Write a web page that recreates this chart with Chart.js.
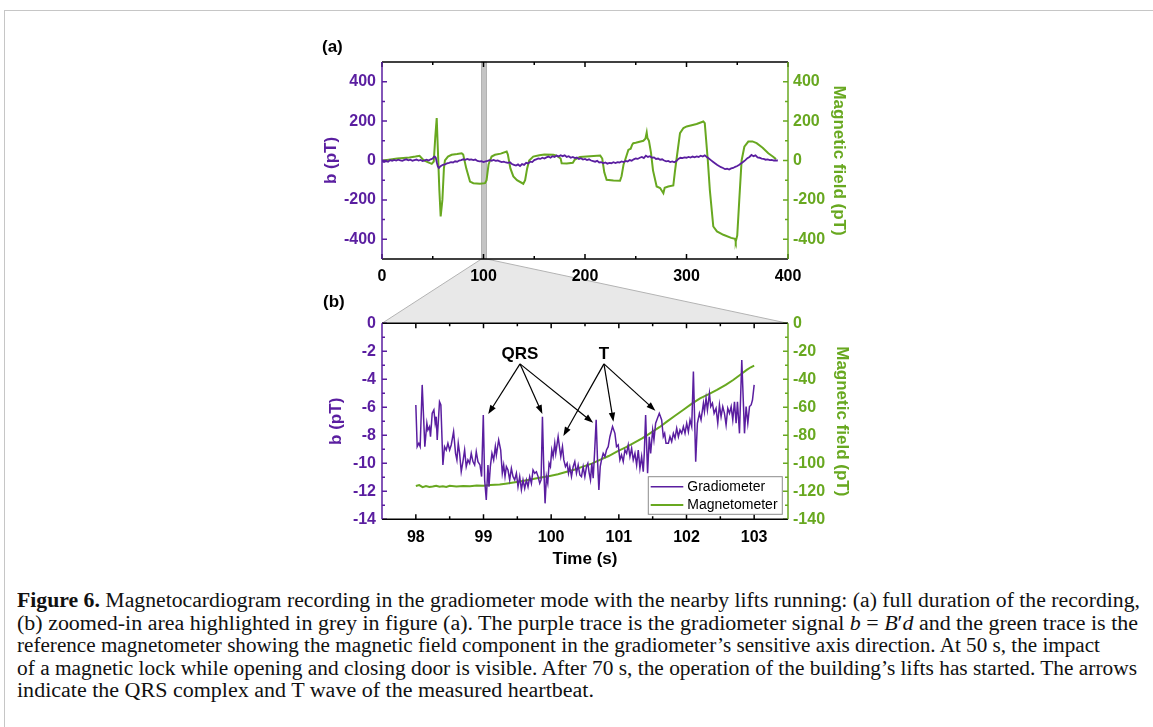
<!DOCTYPE html>
<html>
<head>
<meta charset="utf-8">
<script src="https://cdn.jsdelivr.net/npm/chart.js@4.4.0/dist/chart.umd.min.js"></script>
<style>
body{margin:0;background:#fff;width:1153px;height:727px;overflow:hidden;position:relative;font-family:"Liberation Sans",Arial,sans-serif}
#frame{position:absolute;left:4px;top:10px;right:-4px;bottom:-4px;border-top:1.5px solid #c6c6c6;border-left:1.5px solid #c6c6c6}
canvas{position:absolute;left:0}
#ca{top:0;z-index:2}
#cb{top:259px;z-index:1}
.panel{position:absolute;font-weight:bold;font-size:17px;line-height:20px;z-index:3}
#caption{position:absolute;left:17px;top:589px;font-family:"Liberation Serif",serif;font-size:20px;line-height:22.5px;white-space:nowrap;color:#111}
#caption span{display:inline-block;transform-origin:0 50%}
</style>
</head>
<body>
<div id="frame"></div>
<div class="panel" style="left:322px;top:37px">(a)</div>
<div class="panel" style="left:323px;top:292px">(b)</div>
<canvas id="ca" width="1153" height="290" style="width:1153px;height:290px"></canvas>
<canvas id="cb" width="1153" height="311" style="width:1153px;height:311px"></canvas>
<div id="caption">
<div><span data-w="1123"><b>Figure 6.</b> Magnetocardiogram recording in the gradiometer mode with the nearby lifts running: (a) full duration of the recording,</span></div>
<div><span data-w="1121">(b) zoomed-in area highlighted in grey in figure (a). The purple trace is the gradiometer signal <i>b</i> = <i>B</i>′<i>d</i> and the green trace is the</span></div>
<div><span data-w="1083">reference magnetometer showing the magnetic field component in the gradiometer’s sensitive axis direction. At 50 s, the impact</span></div>
<div><span data-w="1120">of a magnetic lock while opening and closing door is visible. After 70 s, the operation of the building’s lifts has started. The arrows</span></div>
<div><span data-w="577">indicate the QRS complex and T wave of the measured heartbeat.</span></div>
</div>
<script>
const purple = '#5a1ea0';
const green = '#68a820';

// tick labels
const aTimeTicks = [0, 100, 200, 300, 400];
const aFieldTicks = [-400, -200, 0, 200, 400];
const bTimeTicks = [98, 99, 100, 101, 102, 103];
const bGradTicks = [-14, -12, -10, -8, -6, -4, -2, 0];
const bMagTicks = [-140, -120, -100, -80, -60, -40, -20, 0];
const zoomWindow = [98, 103];

// (a) full recording: [time s, pT]
const gradA = [[0,-4],[2,-8],[4,-3],[6,-6],[8,2],[10,-2],[12,3],[14,0],[16,4],[18,1],[20,-2],[22,3],[24,6],[26,1],[28,4],[30,-1],[32,2],[34,5],[36,0],[38,3],[40,-3],[42,1],[44,4],[46,0],[48,6],[50,10],[51,18],[52,20],[53,14],[54,-10],[55,-30],[56,-38],[57,-32],[58,-28],[60,-22],[62,-20],[64,-15],[66,-12],[68,-8],[70,-10],[72,-4],[74,-6],[76,0],[78,2],[80,6],[82,3],[84,8],[86,4],[88,6],[90,2],[92,5],[94,-2],[96,-4],[98,-3],[100,-8],[102,-5],[104,-2],[106,2],[108,-1],[110,3],[112,-2],[114,0],[116,-4],[118,-8],[120,-6],[122,-10],[124,-12],[126,-9],[128,-18],[130,-22],[132,-26],[134,-20],[136,-28],[138,-18],[140,-22],[142,-12],[144,-15],[146,-6],[148,-8],[150,2],[152,6],[154,10],[156,8],[158,14],[160,10],[162,16],[164,20],[166,14],[168,22],[170,18],[172,25],[174,20],[176,27],[178,22],[180,26],[182,18],[184,22],[186,14],[188,18],[190,12],[192,15],[194,8],[196,12],[198,5],[200,8],[202,2],[204,6],[206,0],[208,-3],[210,-6],[212,-2],[214,-10],[216,-8],[218,-14],[220,-10],[222,-16],[224,-12],[226,-14],[228,-9],[230,-13],[232,-8],[234,-10],[236,-5],[238,-8],[240,-2],[242,-5],[244,2],[246,-1],[248,6],[250,10],[252,8],[254,14],[256,18],[258,12],[260,24],[262,18],[264,22],[266,14],[268,16],[270,8],[272,10],[274,4],[276,6],[278,0],[280,-4],[282,-2],[284,-8],[286,-5],[288,-9],[290,-3],[292,8],[294,14],[296,12],[298,16],[300,14],[302,18],[304,15],[306,20],[308,16],[310,21],[312,18],[314,24],[316,20],[318,26],[320,18],[322,10],[324,2],[326,-6],[328,-14],[330,-22],[332,-28],[334,-34],[336,-38],[338,-44],[340,-42],[342,-46],[344,-40],[346,-38],[348,-32],[350,-28],[352,-22],[354,-14],[356,-6],[358,2],[360,12],[362,18],[364,28],[366,22],[368,26],[370,16],[372,14],[374,10],[376,8],[378,4],[380,6],[382,2],[384,3],[386,0],[388,1],[390,0]];

const magA = [[0,0],[5,3],[15,10],[27,15],[33,20],[37,24],[41,2],[45,-8],[49,-17],[51,-5],[52.5,120],[53.9,215],[55,60],[56.5,-150],[57.8,-284],[59.5,-200],[61,-40],[62,0],[65,20],[68.6,29],[74,33],[78.5,37],[80,30],[83,-40],[86.7,-107],[90,-115],[96.5,-118],[101.5,-115],[103,-100],[105,-20],[106.4,0],[108,20],[111.3,29],[117,35],[122.8,46],[124,30],[126.5,-40],[129.4,-81],[133,-100],[139.2,-118],[141,-100],[143,-40],[145,0],[149,20],[155,27],[160,30],[168.8,29],[172,25],[176,10],[177,-14],[182,-15],[188,-12],[190,5],[195,18],[205,22],[215,25],[217,10],[219,-60],[221.3,-98],[228,-102],[234.5,-103],[236,-80],[238,-20],[239.4,0],[242.7,54],[245,60],[246.5,80],[247.6,88],[250,90],[257.5,100],[259.5,110],[260.8,142],[261.5,115],[263,100],[265,40],[267,-50],[270.6,-132],[274,-140],[277.2,-166],[278.5,-138],[282,-132],[287,-127],[288.5,-60],[290,0],[293.6,139],[297,165],[300.2,173],[310,185],[316.6,198],[318,190],[321,0],[323,-150],[326.4,-335],[330,-360],[336.3,-377],[344,-393],[347.8,-398],[348.5,-412],[350,-380],[352,-200],[354.3,0],[357,70],[360.9,96],[365,97],[369.1,88],[375,65],[380.6,37],[385,20],[388.2,7]];

// (b) zoom 98-103 s: gradiometer [s, pT], magnetometer [s, pT]
const gradB = [[98.000,-5.83],[98.020,-8.81],[98.044,-8.57],[98.064,-8.81],[98.094,-4.40],[98.133,-8.81],[98.163,-7.14],[98.178,-7.62],[98.202,-7.38],[98.217,-8.10],[98.242,-6.43],[98.267,-6.19],[98.286,-7.14],[98.301,-6.67],[98.316,-8.33],[98.350,-5.60],[98.370,-5.83],[98.400,-10.12],[98.424,-8.81],[98.449,-9.05],[98.474,-8.57],[98.499,-9.05],[98.523,-8.69],[98.558,-7.74],[98.587,-9.29],[98.607,-9.76],[98.627,-8.57],[98.647,-9.29],[98.671,-10.60],[98.696,-9.88],[98.721,-9.05],[98.745,-10.24],[98.770,-9.76],[98.795,-10.00],[98.819,-9.29],[98.844,-9.88],[98.869,-10.12],[98.893,-9.17],[98.918,-9.88],[98.948,-10.12],[98.972,-10.95],[98.997,-6.55],[99.017,-11.19],[99.041,-12.62],[99.066,-10.12],[99.081,-11.67],[99.101,-10.24],[99.125,-9.29],[99.150,-9.76],[99.175,-8.81],[99.190,-9.40],[99.224,-8.33],[99.254,-9.05],[99.278,-10.71],[99.298,-10.12],[99.318,-10.95],[99.338,-10.24],[99.362,-10.48],[99.387,-11.19],[99.412,-10.36],[99.436,-10.95],[99.461,-11.19],[99.486,-10.71],[99.510,-11.67],[99.535,-10.95],[99.560,-11.90],[99.584,-11.19],[99.609,-11.79],[99.634,-11.19],[99.658,-11.67],[99.683,-10.95],[99.708,-11.43],[99.732,-10.48],[99.757,-10.71],[99.782,-10.60],[99.807,-10.95],[99.831,-11.43],[99.851,-11.19],[99.871,-6.67],[99.890,-10.24],[99.910,-12.86],[99.930,-10.95],[99.950,-11.43],[99.969,-10.00],[99.989,-10.24],[100.009,-9.05],[100.029,-9.52],[100.053,-8.57],[100.068,-9.29],[100.103,-8.10],[100.122,-8.81],[100.142,-9.52],[100.167,-8.81],[100.187,-9.76],[100.211,-10.24],[100.236,-10.00],[100.256,-10.71],[100.275,-10.24],[100.300,-10.95],[100.325,-10.24],[100.349,-9.88],[100.374,-10.71],[100.399,-10.12],[100.424,-10.83],[100.448,-10.95],[100.473,-10.24],[100.498,-10.95],[100.522,-10.24],[100.542,-10.00],[100.562,-10.71],[100.581,-11.19],[100.601,-10.00],[100.621,-11.07],[100.641,-9.29],[100.665,-6.90],[100.685,-9.76],[100.705,-11.90],[100.725,-10.24],[100.744,-9.76],[100.769,-9.29],[100.794,-9.52],[100.818,-9.05],[100.843,-8.81],[100.868,-8.10],[100.907,-7.38],[100.942,-7.86],[100.966,-8.81],[100.991,-8.69],[101.016,-9.76],[101.040,-9.40],[101.065,-9.88],[101.090,-9.05],[101.115,-9.29],[101.139,-8.69],[101.164,-9.52],[101.189,-8.93],[101.213,-9.76],[101.238,-9.29],[101.263,-10.12],[101.287,-9.05],[101.312,-10.36],[101.337,-9.52],[101.361,-10.60],[101.376,-9.29],[101.396,-6.55],[101.425,-10.71],[101.450,-8.10],[101.470,-9.29],[101.500,-7.62],[101.519,-8.33],[101.544,-7.14],[101.598,-6.43],[101.633,-6.90],[101.657,-8.10],[101.677,-7.86],[101.697,-8.57],[101.732,-8.57],[101.756,-8.10],[101.781,-8.45],[101.806,-7.86],[101.830,-8.21],[101.855,-7.50],[101.880,-8.10],[101.904,-7.62],[101.929,-7.86],[101.954,-7.38],[101.978,-7.86],[102.003,-7.14],[102.028,-7.74],[102.052,-6.90],[102.077,-7.38],[102.102,-3.45],[102.136,-9.88],[102.161,-7.14],[102.191,-6.43],[102.215,-6.90],[102.250,-5.71],[102.265,-6.31],[102.289,-5.36],[102.309,-6.19],[102.339,-5.00],[102.358,-5.95],[102.383,-5.71],[102.408,-6.43],[102.437,-6.07],[102.462,-7.14],[102.487,-5.83],[102.511,-6.67],[102.536,-5.95],[102.561,-6.43],[102.585,-7.26],[102.610,-6.07],[102.635,-6.43],[102.660,-5.95],[102.684,-6.90],[102.709,-5.60],[102.733,-7.14],[102.753,-5.60],[102.783,-7.86],[102.817,-2.62],[102.857,-7.86],[102.881,-5.95],[102.906,-7.14],[102.931,-5.95],[102.955,-5.83],[102.975,-5.48],[103.000,-4.40]];

const magB = [[98,-116.2],[98.05,-115.6],[98.1,-117.0],[98.15,-116.3],[98.2,-116.9],[98.25,-116.6],[98.3,-116.0],[98.35,-116.8],[98.4,-116.4],[98.45,-116.9],[98.5,-116.1],[98.6,-116.5],[98.7,-116.2],[98.8,-116.4],[98.9,-115.9],[99.0,-116.0],[99.1,-115.5],[99.24,-115.2],[99.35,-114.4],[99.49,-113.3],[99.6,-112.4],[99.73,-111.2],[99.85,-110.2],[99.98,-109.0],[100.1,-107.8],[100.23,-106.0],[100.35,-104.4],[100.47,-102.4],[100.6,-100.2],[100.72,-97.6],[100.85,-94.8],[100.97,-91.7],[101.1,-88.6],[101.21,-85.7],[101.35,-82.0],[101.46,-78.6],[101.6,-74.2],[101.71,-70.2],[101.83,-66.0],[101.95,-61.9],[102.08,-57.4],[102.2,-53.6],[102.33,-50.6],[102.45,-47.6],[102.58,-44.0],[102.69,-40.5],[102.8,-36.6],[102.89,-33.3],[102.95,-31.4],[103,-30.2]];

// annotations in (b) data units: label position, arrow start, arrow tips
const qrsNote = {text: 'QRS', at: [99.54, -2.19], from: [99.54, -2.9], tips: [[99.07, -6.48], [99.87, -6.48], [100.62, -7.1]]};
const tNote = {text: 'T', at: [100.78, -2.19], from: [100.78, -2.9], tips: [[100.18, -8.05], [100.92, -7.03], [101.54, -6.24]]};

const pts = arr => arr.map(([x, y]) => ({x, y}));
const setTicks = list => s => { s.ticks = list.map(v => ({value: v})); };
const tickFont = {size: 16, weight: 'bold'};
const titleFont = {size: 17, weight: 'bold'};
Chart.defaults.font.family = '"Liberation Sans", Arial, sans-serif';

// inward ticks and coloured frame
const frameTicks = {
    id: 'frameTicks',
    afterDatasetsDraw(chart) {
        const {ctx, chartArea: a, scales} = chart;
        ctx.save();
        ctx.lineWidth = 1.5;
        const mark = (scale, color, draw) => {
            const v = scale.ticks.map(t => t.value);
            const step = v[1] - v[0];
            const lo = Math.min(scale.min, scale.max), hi = Math.max(scale.min, scale.max);
            ctx.strokeStyle = color;
            ctx.beginPath();
            v.forEach(val => draw(scale.getPixelForValue(val), 5));
            [v[0] - step / 2, ...v.map(x => x + step / 2)].forEach(val => {
                if (val > lo && val < hi) draw(scale.getPixelForValue(val), 3);
            });
            ctx.stroke();
        };
        mark(scales.x, '#000', (p, l) => {
            ctx.moveTo(p, a.bottom); ctx.lineTo(p, a.bottom - l);
            ctx.moveTo(p, a.top); ctx.lineTo(p, a.top + l);
        });
        mark(scales.y, purple, (p, l) => { ctx.moveTo(a.left, p); ctx.lineTo(a.left + l, p); });
        mark(scales.y2, green, (p, l) => { ctx.moveTo(a.right, p); ctx.lineTo(a.right - l, p); });
        const line = (c, x1, y1, x2, y2) => {
            ctx.strokeStyle = c; ctx.beginPath(); ctx.moveTo(x1, y1); ctx.lineTo(x2, y2); ctx.stroke();
        };
        line('#000', a.left, a.top, a.right, a.top);
        line('#000', a.left, a.bottom, a.right, a.bottom);
        line(purple, a.left, a.top, a.left, a.bottom);
        line(green, a.right, a.top, a.right, a.bottom);
        ctx.restore();
    }
};

// grey band marking the zoomed window
const band = {
    id: 'band',
    beforeDatasetsDraw(chart) {
        const {ctx, chartArea: a, scales: {x}} = chart;
        const x1 = x.getPixelForValue(zoomWindow[0]), x2 = x.getPixelForValue(zoomWindow[1]);
        ctx.save();
        ctx.fillStyle = '#c4c4c4';
        ctx.fillRect(x1, a.top, x2 - x1, a.bottom - a.top);
        ctx.strokeStyle = '#a8a8a8';
        ctx.lineWidth = 0.8;
        ctx.strokeRect(x1, a.top, x2 - x1, a.bottom - a.top);
        ctx.restore();
    }
};

function axisY(pos, min, max, list, color, title, w) {
    return {
        type: 'linear', position: pos, min, max,
        grid: {display: false, drawTicks: false}, border: {display: false},
        afterBuildTicks: setTicks(list),
        afterFit: s => { s.width = w; },
        ticks: {color, font: tickFont, padding: pos === 'left' ? 6 : 5},
        title: {display: true, text: title, color, font: titleFont, padding: 0}
    };
}

const chartA = new Chart(document.getElementById('ca'), {
    type: 'line',
    data: {
        datasets: [
            {label: 'Gradiometer', data: pts(gradA), borderColor: purple, borderWidth: 1.8, yAxisID: 'y'},
            {label: 'Magnetometer', data: pts(magA), borderColor: green, borderWidth: 2, yAxisID: 'y2'}
        ]
    },
    options: {
        responsive: false, animation: false, devicePixelRatio: 1,
        elements: {point: {radius: 0}, line: {tension: 0}},
        layout: {padding: {left: 321.5, right: 304, top: 62, bottom: 0}},
        plugins: {legend: {display: false}, tooltip: {enabled: false}},
        scales: {
            x: {
                type: 'linear', position: 'bottom', min: 0, max: 400,
                grid: {display: false, drawTicks: false}, border: {display: false},
                afterBuildTicks: setTicks(aTimeTicks),
                afterFit: s => { s.height = 31; },
                ticks: {color: '#000', font: tickFont, padding: 8, maxRotation: 0}
            },
            y: axisY('left', -500, 500, aFieldTicks, purple, 'b (pT)', 60.5),
            y2: axisY('right', -500, 500, aFieldTicks, green, 'Magnetic field (pT)', 61)
        }
    },
    plugins: [band, frameTicks]
});

// trapezoid joining the band in (a) to the frame of (b)
const zoomFan = {
    id: 'zoomFan',
    beforeDraw(chart) {
        const {ctx, chartArea: b} = chart;
        const xa = chartA.scales.x;
        const dy = chart.canvas.offsetTop - chartA.canvas.offsetTop;
        const yTop = chartA.chartArea.bottom - dy;
        const x1 = xa.getPixelForValue(zoomWindow[0]), x2 = xa.getPixelForValue(zoomWindow[1]);
        ctx.save();
        ctx.beginPath();
        ctx.moveTo(x1, yTop); ctx.lineTo(x2, yTop);
        ctx.lineTo(b.right, b.top); ctx.lineTo(b.left, b.top);
        ctx.closePath();
        ctx.fillStyle = '#e8e8e8';
        ctx.fill();
        ctx.strokeStyle = '#b4b4b4';
        ctx.lineWidth = 1;
        ctx.beginPath();
        ctx.moveTo(x1, yTop); ctx.lineTo(b.left, b.top);
        ctx.moveTo(x2, yTop); ctx.lineTo(b.right, b.top);
        ctx.stroke();
        ctx.restore();
    }
};

const notes = {
    id: 'notes',
    afterDatasetsDraw(chart) {
        const {ctx, scales: {x, y}} = chart;
        ctx.save();
        [qrsNote, tNote].forEach(n => {
            ctx.fillStyle = '#000';
            ctx.font = 'bold 17px "Liberation Sans", Arial, sans-serif';
            ctx.textAlign = 'center';
            ctx.textBaseline = 'middle';
            ctx.fillText(n.text, x.getPixelForValue(n.at[0]), y.getPixelForValue(n.at[1]));
            const sx = x.getPixelForValue(n.from[0]), sy = y.getPixelForValue(n.from[1]);
            n.tips.forEach(([tx, ty]) => {
                const ex = x.getPixelForValue(tx), ey = y.getPixelForValue(ty);
                const ang = Math.atan2(ey - sy, ex - sx);
                ctx.strokeStyle = '#000';
                ctx.lineWidth = 1.2;
                ctx.beginPath();
                ctx.moveTo(sx, sy);
                ctx.lineTo(ex - 6 * Math.cos(ang), ey - 6 * Math.sin(ang));
                ctx.stroke();
                ctx.beginPath();
                ctx.moveTo(ex, ey);
                ctx.lineTo(ex - 9 * Math.cos(ang) + 3.2 * Math.sin(ang), ey - 9 * Math.sin(ang) - 3.2 * Math.cos(ang));
                ctx.lineTo(ex - 9 * Math.cos(ang) - 3.2 * Math.sin(ang), ey - 9 * Math.sin(ang) + 3.2 * Math.cos(ang));
                ctx.closePath();
                ctx.fill();
            });
        });
        ctx.restore();
    }
};

const boxLegend = {
    id: 'boxLegend',
    afterDatasetsDraw(chart) {
        const {ctx, chartArea: a} = chart;
        const w = 134, h = 37.6;
        const lx = a.right - 5.7 - w, ly = a.bottom - 5 - h;
        ctx.save();
        ctx.fillStyle = '#fff';
        ctx.fillRect(lx, ly, w, h);
        ctx.strokeStyle = '#8c8c8c';
        ctx.lineWidth = 1;
        ctx.strokeRect(lx, ly, w, h);
        ctx.font = '14px "Liberation Sans", Arial, sans-serif';
        ctx.textBaseline = 'middle';
        chart.data.datasets.forEach((ds, i) => {
            const cy = ly + 10 + i * 18.3;
            ctx.strokeStyle = ds.borderColor;
            ctx.lineWidth = ds.borderWidth;
            ctx.beginPath();
            ctx.moveTo(lx + 2.4, cy); ctx.lineTo(lx + 35, cy);
            ctx.stroke();
            ctx.fillStyle = '#000';
            ctx.fillText(ds.label, lx + 39, cy);
        });
        ctx.restore();
    }
};

new Chart(document.getElementById('cb'), {
    type: 'line',
    data: {
        datasets: [
            {label: 'Gradiometer', data: pts(gradB), borderColor: purple, borderWidth: 1.5, yAxisID: 'y'},
            {label: 'Magnetometer', data: pts(magB), borderColor: green, borderWidth: 2, yAxisID: 'y2'}
        ]
    },
    options: {
        responsive: false, animation: false, devicePixelRatio: 1,
        elements: {point: {radius: 0}, line: {tension: 0}},
        layout: {padding: {left: 325.8, right: 301.1, top: 64.3, bottom: 0}},
        plugins: {legend: {display: false}, tooltip: {enabled: false}},
        scales: {
            x: {
                type: 'linear', position: 'bottom', min: 97.5, max: 103.5,
                grid: {display: false, drawTicks: false}, border: {display: false},
                afterBuildTicks: setTicks(bTimeTicks),
                afterFit: s => { s.height = 50.7; },
                ticks: {color: '#000', font: tickFont, padding: 9, maxRotation: 0},
                title: {display: true, text: 'Time (s)', color: '#000', font: titleFont, padding: {top: 0, bottom: 0}}
            },
            y: axisY('left', -14, 0, bGradTicks, purple, 'b (pT)', 56.2),
            y2: axisY('right', -140, 0, bMagTicks, green, 'Magnetic field (pT)', 63.9)
        }
    },
    plugins: [zoomFan, frameTicks, notes, boxLegend]
});

// fit every caption line to its width in the printed figure
document.querySelectorAll('#caption span').forEach(s => {
    const k = +s.dataset.w / s.getBoundingClientRect().width;
    s.style.transform = 'scaleX(' + k + ')';
});
</script>
</body>
</html>
